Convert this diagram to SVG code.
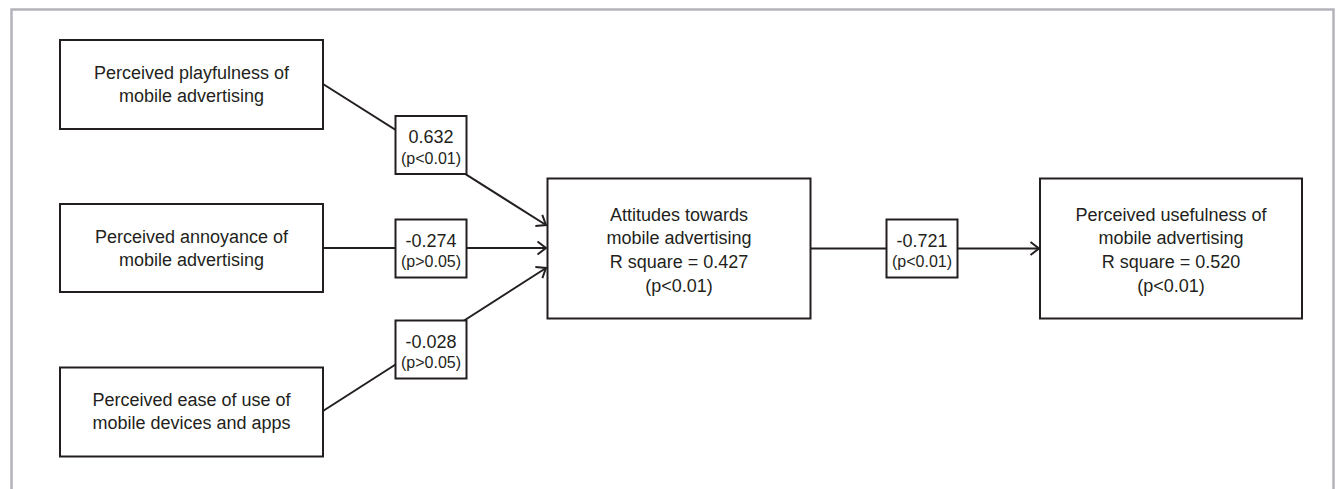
<svg xmlns="http://www.w3.org/2000/svg" width="1337" height="489" viewBox="0 0 1337 489">
<style>
.node rect{fill:#fff;stroke:#231f20;stroke-width:2}
.coef rect{fill:#fff;stroke:#231f20;stroke-width:2}
text{font-family:"Liberation Sans",Arial,sans-serif;fill:#231f20;text-anchor:middle}
.t{font-size:18px}
.s{font-size:16px}
.edge{stroke:#231f20;stroke-width:2;fill:none}
</style>
<defs>
<marker id="arr" markerUnits="userSpaceOnUse" markerWidth="14" markerHeight="18" refX="10" refY="8" orient="auto">
<path d="M1.5,1.5 L10,8 L1.5,14.5" fill="none" stroke="#231f20" stroke-width="2"/>
</marker>
</defs>
<rect x="0" y="0" width="1337" height="489" fill="#fff"/>
<rect x="11.5" y="9.5" width="1322" height="500" fill="none" stroke="#b3b3ba" stroke-width="2.5"/>
<g id="connectors">
<line class="edge" x1="323" y1="84" x2="546" y2="225" marker-end="url(#arr)"/>
<line class="edge" x1="323" y1="248" x2="546" y2="248" marker-end="url(#arr)"/>
<line class="edge" x1="323" y1="411" x2="546" y2="268" marker-end="url(#arr)"/>
<line class="edge" x1="811" y1="248.5" x2="1039" y2="248.5" marker-end="url(#arr)"/>
</g>
<g id="n1" class="node">
<rect x="60" y="40" width="263" height="89"/>
<text class="t" x="191.5" y="79">Perceived playfulness of</text>
<text class="t" x="191.5" y="102">mobile advertising</text>
</g>
<g id="n2" class="node">
<rect x="60" y="204" width="263" height="88"/>
<text class="t" x="191.5" y="242.5">Perceived annoyance of</text>
<text class="t" x="191.5" y="265.5">mobile advertising</text>
</g>
<g id="n3" class="node">
<rect x="60" y="367.5" width="263" height="89"/>
<text class="t" x="191.5" y="406">Perceived ease of use of</text>
<text class="t" x="191.5" y="429">mobile devices and apps</text>
</g>
<g id="n4" class="node">
<rect x="547.5" y="178.5" width="263" height="140"/>
<text class="t" x="679" y="220.5">Attitudes towards</text>
<text class="t" x="679" y="244">mobile advertising</text>
<text class="t" x="679" y="268">R square = 0.427</text>
<text class="t" x="679" y="291.5">(p&lt;0.01)</text>
</g>
<g id="n5" class="node">
<rect x="1040" y="178.5" width="262" height="140"/>
<text class="t" x="1171" y="220.5">Perceived usefulness of</text>
<text class="t" x="1171" y="244">mobile advertising</text>
<text class="t" x="1171" y="268">R square = 0.520</text>
<text class="t" x="1171" y="291.5">(p&lt;0.01)</text>
</g>
<g id="c1" class="coef">
<rect x="395.5" y="116" width="71" height="58"/>
<text class="t" x="431" y="143">0.632</text>
<text class="s" x="431" y="163.5">(p&lt;0.01)</text>
</g>
<g id="c2" class="coef">
<rect x="395.5" y="219.5" width="71" height="58"/>
<text class="t" x="431" y="246.5">-0.274</text>
<text class="s" x="431" y="267">(p&gt;0.05)</text>
</g>
<g id="c3" class="coef">
<rect x="395.5" y="320.5" width="71" height="58"/>
<text class="t" x="431" y="347.5">-0.028</text>
<text class="s" x="431" y="368">(p&gt;0.05)</text>
</g>
<g id="c4" class="coef">
<rect x="886.5" y="219.5" width="71" height="58"/>
<text class="t" x="922" y="246.5">-0.721</text>
<text class="s" x="922" y="267">(p&lt;0.01)</text>
</g>
</svg>
